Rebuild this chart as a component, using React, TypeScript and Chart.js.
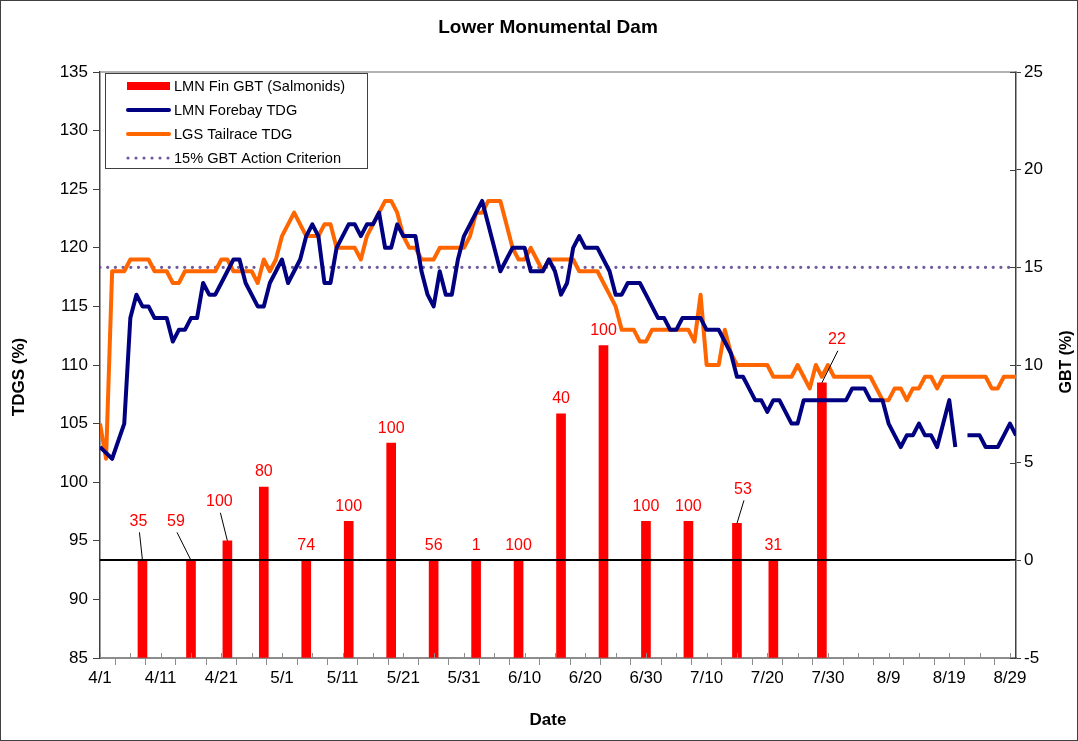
import React, { useEffect, useRef } from 'react';
import { Chart, registerables } from 'chart.js';

Chart.register(...registerables);

// ---------------- DATA ----------------
const chartTitle = 'Lower Monumental Dam';
const startDate = '4/1';
const xTickLabels = ['4/1', '4/11', '4/21', '5/1', '5/11', '5/21', '5/31', '6/10', '6/20', '6/30', '7/10', '7/20', '7/30', '8/9', '8/19', '8/29'];

// LMN Forebay TDG (%), daily from 4/1
const forebayTDG: (number | null)[] = [
  103, 102.5, 102, 103.5, 105, 114, 116, 115, 115, 114,
  114, 114, 112, 113, 113, 114, 114, 117, 116, 116,
  117, 118, 119, 119, 117, 116, 115, 115, 117, 118,
  119, 117, 118, 119, 121, 122, 121, 117, 117, 120,
  121, 122, 122, 121, 122, 122, 123, 120, 120, 122,
  121, 121, 121, 118, 116, 115, 118, 116, 116, 119,
  121, 122, 123, 124, 122, 120, 118, 119, 120, 120,
  120, 118, 118, 118, 119, 118, 116, 117, 120, 121,
  120, 120, 120, 119, 118, 116, 116, 117, 117, 117,
  116, 115, 114, 114, 113, 113, 114, 114, 114, 114,
  113, 113, 113, 112, 111, 109, 109, 108, 107, 107,
  106, 107, 107, 106, 105, 105, 107, 107, 107, 107,
  107, 107, 107, 107, 108, 108, 108, 107, 107, 107,
  105, 104, 103, 104, 104, 105, 104, 104, 103, 105,
  107, 103, null, 104, 104, 104, 103, 103, 103, 104,
  105, 104,
];

// LGS Tailrace TDG (%), daily from 4/1
const tailraceTDG: (number | null)[] = [
  105, 102, 118, 118, 118, 119, 119, 119, 119, 118,
  118, 118, 117, 117, 118, 118, 118, 118, 118, 118,
  119, 119, 118, 118, 118, 118, 117, 119, 118, 119,
  121, 122, 123, 122, 121, 121, 121, 122, 122, 120,
  120, 120, 120, 119, 121, 122, 123, 124, 124, 123,
  121, 120, 120, 119, 119, 119, 120, 120, 120, 120,
  120, 121, 123, 123, 124, 124, 124, 122, 120, 119,
  119, 120, 119, 118, 119, 119, 119, 119, 119, 118,
  118, 118, 118, 117, 116, 115, 113, 113, 113, 112,
  112, 113, 113, 113, 113, 113, 113, 113, 112, 116,
  110, 110, 110, 113, 111, 110, 110, 110, 110, 110,
  110, 109, 109, 109, 109, 110, 109, 108, 110, 109,
  110, 109, 109, 109, 109, 109, 109, 109, 108, 107,
  107, 108, 108, 107, 108, 108, 109, 109, 108, 109,
  109, 109, 109, 109, 109, 109, 109, 108, 108, 109,
  109, 109,
];

// LMN Fin GBT (Salmonids): sample dates, GBT (%), fish examined
const gbtDates = ['4/8', '4/16', '4/22', '4/28', '5/5', '5/12', '5/19', '5/26', '6/2', '6/9', '6/16', '6/23', '6/30', '7/7', '7/15', '7/21', '7/29'];
const gbtValues = [0, 0, 1, 3.75, 0, 2, 6, 0, 0, 0, 7.5, 11, 2, 2, 1.89, 0, 9.09];
const fishCounts = [35, 59, 100, 80, 74, 100, 100, 56, 1, 100, 40, 100, 100, 100, 53, 31, 22];

const gbtCriterion = 15;

const seriesNames = ['LMN Fin GBT (Salmonids)', 'LMN Forebay TDG', 'LGS Tailrace TDG', '15% GBT Action Criterion'];

// ---------------- HELPERS ----------------
const monthOffset: Record<number, number> = { 4: 0, 5: 30, 6: 61, 7: 91, 8: 122 };
function dayIndex(label: string): number {
  const [m, d] = label.split('/').map(Number);
  return monthOffset[m] + d - 1;
}
const day0 = dayIndex(startDate);
const lastDay = day0 + forebayTDG.length - 1;

const FONT = '"Liberation Sans", Arial, sans-serif';
const RED = '#ff0000';
const NAVY = '#000080';
const ORANGE = '#ff6600';
const PURPLE = '#6f5a9e';

// label nudges (dx, dy relative to bar top); nudged labels get a leader line
const labelNudge: Record<number, [number, number]> = {
  0: [-4, -39],
  1: [-15, -39],
  2: [-8, -39],
  14: [6, -34],
  16: [15, -43],
};

const overlayPlugin = {
  id: 'overlay',
  beforeDraw(chart: any) {
    const { ctx, width, height } = chart;
    ctx.save();
    ctx.fillStyle = '#ffffff';
    ctx.fillRect(0, 0, width, height);
    ctx.restore();
  },
  afterDatasetsDraw(chart: any) {
    const { ctx, chartArea } = chart;
    const y1 = chart.scales.y1;
    const x = chart.scales.x;
    ctx.save();
    // zero line on GBT axis
    const zy = Math.round(y1.getPixelForValue(0));
    ctx.strokeStyle = '#000000';
    ctx.lineWidth = 2;
    ctx.beginPath();
    ctx.moveTo(chartArea.left, zy);
    ctx.lineTo(chartArea.right, zy);
    ctx.stroke();

    // top border of plot area
    ctx.strokeStyle = '#9a9a9a';
    ctx.lineWidth = 1.5;
    ctx.beginPath();
    ctx.moveTo(chartArea.left, chartArea.top);
    ctx.lineTo(chartArea.right, chartArea.top);
    ctx.stroke();

    // inner tick marks for x axis and right axis
    ctx.strokeStyle = '#8c8c8c';
    ctx.lineWidth = 1;
    x.ticks.forEach((t: any) => {
      const px = Math.round(x.getPixelForValue(t.value)) + 0.5;
      ctx.beginPath();
      ctx.moveTo(px, chartArea.bottom);
      ctx.lineTo(px, chartArea.bottom - 5);
      ctx.stroke();
    });
    ctx.strokeStyle = '#404040';
    y1.ticks.forEach((t: any) => {
      const py = Math.round(y1.getPixelForValue(t.value)) + 0.5;
      ctx.beginPath();
      ctx.moveTo(chartArea.right, py);
      ctx.lineTo(chartArea.right - 6, py);
      ctx.stroke();
    });

    // bar labels
    const meta = chart.getDatasetMeta(0);
    ctx.font = `16px ${FONT}`;
    ctx.textAlign = 'center';
    ctx.textBaseline = 'middle';
    meta.data.forEach((el: any, i: number) => {
      const nudge = labelNudge[i];
      const dx = nudge ? nudge[0] : 0;
      const dy = nudge ? nudge[1] : -15;
      const tx = el.x + dx;
      const ty = el.y + dy;
      if (nudge) {
        ctx.strokeStyle = '#000000';
        ctx.lineWidth = 1;
        ctx.beginPath();
        ctx.moveTo(tx + 1, ty + 11);
        ctx.lineTo(el.x, el.y);
        ctx.stroke();
      }
      ctx.fillStyle = RED;
      ctx.fillText(String(fishCounts[i]), tx, ty);
    });
    ctx.restore();
  },
  afterDraw(chart: any) {
    const { ctx, width, height } = chart;
    ctx.save();
    // title
    ctx.fillStyle = '#000000';
    ctx.font = `bold 19px ${FONT}`;
    ctx.textAlign = 'center';
    ctx.textBaseline = 'middle';
    ctx.fillText(chartTitle, 548, 28);

    // axis titles
    ctx.font = `bold 17px ${FONT}`;
    ctx.fillText('Date', 548, 720);
    ctx.save();
    ctx.translate(19, 377);
    ctx.rotate(-Math.PI / 2);
    ctx.fillText('TDGS (%)', 0, 0);
    ctx.restore();
    ctx.save();
    ctx.font = `bold 16px ${FONT}`;
    ctx.translate(1067, 362);
    ctx.rotate(-Math.PI / 2);
    ctx.fillText('GBT (%)', 0, 0);
    ctx.restore();

    // legend box
    const lx = 105.5, ly = 73.5, lw = 262, lh = 95;
    ctx.fillStyle = '#ffffff';
    ctx.fillRect(lx, ly, lw, lh);
    ctx.strokeStyle = '#404040';
    ctx.lineWidth = 1;
    ctx.strokeRect(lx, ly, lw, lh);
    const rowY = [86, 110, 134, 158];
    const sx0 = 127, sx1 = 170;
    ctx.font = `14.6px ${FONT}`;
    ctx.textAlign = 'left';
    ctx.textBaseline = 'middle';
    seriesNames.forEach((name, i) => {
      const yy = rowY[i];
      ctx.save();
      if (i === 0) {
        ctx.fillStyle = RED;
        ctx.fillRect(sx0, yy - 4, sx1 - sx0, 8);
      } else if (i === 1 || i === 2) {
        ctx.strokeStyle = i === 1 ? NAVY : ORANGE;
        ctx.lineWidth = 4;
        ctx.lineCap = 'round';
        ctx.beginPath();
        ctx.moveTo(sx0 + 1, yy);
        ctx.lineTo(sx1 - 1, yy);
        ctx.stroke();
      } else {
        ctx.fillStyle = PURPLE;
        for (let k = 0; k < 6; k++) {
          ctx.beginPath();
          ctx.arc(sx0 + 1 + k * 8, yy, 1.6, 0, Math.PI * 2);
          ctx.fill();
        }
      }
      ctx.restore();
      ctx.fillStyle = '#000000';
      ctx.fillText(name, 174, yy + 1);
    });

    // outer frame
    ctx.strokeStyle = '#404040';
    ctx.lineWidth = 1;
    ctx.strokeRect(0.5, 0.5, width - 1, height - 1);
    ctx.restore();
  },
};

export default function App() {
  const canvasRef = useRef<HTMLCanvasElement | null>(null);

  useEffect(() => {
    if (!canvasRef.current) return;
    const forebayPts = forebayTDG.map((v, i) => ({ x: day0 + i, y: v }));
    const tailracePts = tailraceTDG.map((v, i) => ({ x: day0 + i, y: v }));
    const gbtPts = gbtDates.map((d, i) => ({ x: dayIndex(d), y: gbtValues[i] }));
    const criterionPts = [{ x: day0, y: gbtCriterion }, { x: lastDay, y: gbtCriterion }];

    const tickFont = { family: FONT, size: 17 };

    const chart = new Chart(canvasRef.current, {
      type: 'line',
      data: {
        datasets: [
          {
            type: 'bar',
            label: seriesNames[0],
            data: gbtPts as any,
            yAxisID: 'y1',
            backgroundColor: RED,
            barThickness: 9,
            base: -5,
            order: 3,
          } as any,
          {
            type: 'line',
            label: seriesNames[1],
            data: forebayPts as any,
            yAxisID: 'y',
            borderColor: NAVY,
            borderWidth: 4,
            pointRadius: 0,
            tension: 0,
            spanGaps: false,
            borderJoinStyle: 'round',
            order: 1,
          },
          {
            type: 'line',
            label: seriesNames[2],
            data: tailracePts as any,
            yAxisID: 'y',
            borderColor: ORANGE,
            borderWidth: 4,
            pointRadius: 0,
            tension: 0,
            borderJoinStyle: 'round',
            order: 2,
          },
          {
            type: 'line',
            label: seriesNames[3],
            data: criterionPts as any,
            yAxisID: 'y1',
            borderColor: PURPLE,
            borderWidth: 3.3,
            borderDash: [0, 7.7],
            borderCapStyle: 'round',
            pointRadius: 0,
            order: 4,
          },
        ],
      },
      options: {
        animation: false,
        responsive: false,
        devicePixelRatio: 1,
        layout: { padding: { top: 72, left: 0, right: 0, bottom: 0 } },
        plugins: {
          legend: { display: false },
          title: { display: false },
          tooltip: { enabled: false },
        },
        scales: {
          x: {
            type: 'linear',
            min: day0,
            max: lastDay,
            offset: false,
            grid: { drawOnChartArea: false, drawTicks: true, tickLength: 7, color: '#8c8c8c' },
            border: { display: true, color: '#8c8c8c', width: 2 },
            ticks: {
              stepSize: 5,
              autoSkip: false,
              includeBounds: false,
              maxRotation: 0,
              padding: 3,
              color: '#000000',
              font: tickFont,
              callback: (v: any) => {
                const n = Number(v) - day0;
                return n % 10 === 0 ? xTickLabels[n / 10] : '';
              },
            },
            afterFit: (s: any) => { s.height = 83; },
          },
          y: {
            type: 'linear',
            position: 'left',
            min: 85,
            max: 135,
            grid: { drawOnChartArea: false, tickLength: 7, color: '#404040' },
            border: { display: true, color: '#404040', width: 1.5 },
            ticks: { stepSize: 5, padding: 5, color: '#000000', font: tickFont },
            afterFit: (s: any) => { s.width = 100; },
          },
          y1: {
            type: 'linear',
            position: 'right',
            min: -5,
            max: 25,
            grid: { drawOnChartArea: false, tickLength: 5, color: '#404040' },
            border: { display: true, color: '#404040', width: 1.5 },
            ticks: { stepSize: 5, padding: 3, color: '#000000', font: tickFont },
            afterFit: (s: any) => { s.width = 62; },
          },
        },
      },
      plugins: [overlayPlugin],
    });
    return () => chart.destroy();
  }, []);

  return (
    <div style={{ position: 'absolute', left: 0, top: 0, width: 1078, height: 741, background: '#fff' }}>
      <canvas ref={canvasRef} width={1078} height={741} style={{ display: 'block' }} />
    </div>
  );
}
